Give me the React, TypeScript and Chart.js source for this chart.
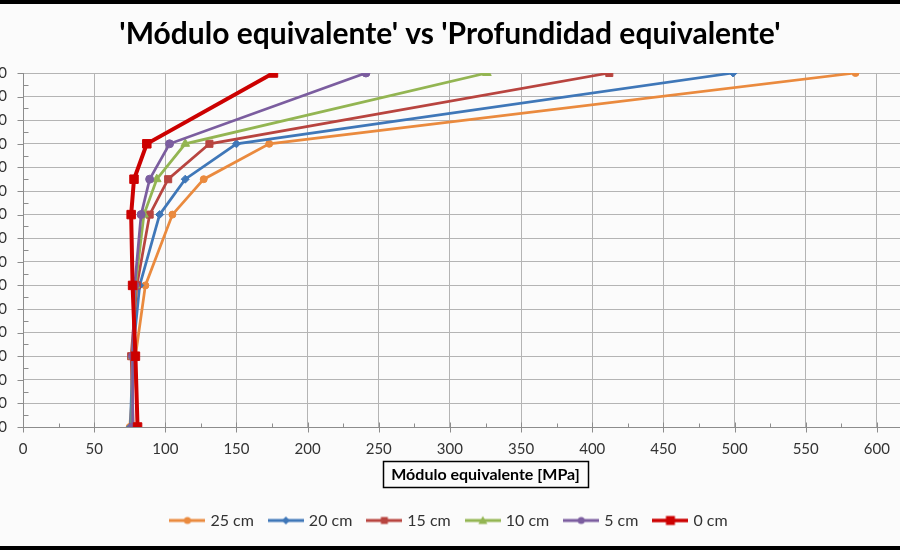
import React, { useEffect, useRef } from "react";
import { Chart, registerables } from "chart.js";

Chart.register(...registerables);

// ---------- data ----------
const depthValues = [0, 30, 45, 60, 90, 120, 150];
const seriesNames = ["25 cm", "20 cm", "15 cm", "10 cm", "5 cm", "0 cm"];
const modulus25 = [585, 173, 127, 105, 86, 79, 75];
const modulus20 = [499, 150, 114, 96, 82, 77, 75.5];
const modulus15 = [412, 131, 102, 89, 80, 76, 77.5];
const modulus10 = [326, 114, 94, 85, 79, 77, 76.5];
const modulus5 = [241, 103, 89, 83, 78.5, 77, 77];
const modulus0 = [176, 87, 78, 76, 77, 79, 80.5];
const seriesValues = [modulus25, modulus20, modulus15, modulus10, modulus5, modulus0];

const chartTitle = "'Módulo equivalente' vs 'Profundidad equivalente'";
const xAxisTitle = "Módulo equivalente [MPa]";
const xRange = [0, 650];
const xStep = 50;
const yRange = [0, 150];
const yStep = 10;

// ---------- styles ----------
const FONT = "Lato, 'Open Sans', sans-serif";
const seriesColors = ["#EA8A3E", "#3F77B8", "#B8443F", "#93B552", "#7B5D9F", "#CC0000"];
const seriesPointStyles = ["circle", "rectRot", "rect", "triangle", "circle", "rect"];
const seriesPointRadius = [3.5, 4, 5, 5, 4, 6];
const seriesLineWidth = [2.75, 2.75, 2.75, 2.75, 2.75, 4];

const CANVAS_W = 996;
const CANVAS_H = 550;
const SHIFT = 48;
const X_AXIS_HEIGHT = 68.5;

function makeLegendImage(color: string, lw: number, style: string) {
  const c = document.createElement("canvas");
  c.width = 36;
  c.height = 14;
  const ctx = c.getContext("2d")!;
  ctx.strokeStyle = color;
  ctx.fillStyle = color;
  ctx.lineWidth = lw;
  ctx.beginPath();
  ctx.moveTo(0, 7);
  ctx.lineTo(36, 7);
  ctx.stroke();
  const cx = 18, cy = 7;
  ctx.beginPath();
  if (style === "circle") {
    ctx.arc(cx, cy, 3.5, 0, Math.PI * 2);
  } else if (style === "rect") {
    const s = lw > 3 ? 4.5 : 3.5;
    ctx.rect(cx - s, cy - s, 2 * s, 2 * s);
  } else if (style === "rectRot") {
    ctx.moveTo(cx, cy - 4);
    ctx.lineTo(cx + 4, cy);
    ctx.lineTo(cx, cy + 4);
    ctx.lineTo(cx - 4, cy);
    ctx.closePath();
  } else if (style === "triangle") {
    ctx.moveTo(cx, cy - 4.5);
    ctx.lineTo(cx + 4.5, cy + 3.5);
    ctx.lineTo(cx - 4.5, cy + 3.5);
    ctx.closePath();
  }
  ctx.fill();
  return c;
}

const decorPlugin = {
  id: "decor",
  beforeDraw(chart: any) {
    const { ctx, width, height } = chart;
    ctx.save();
    ctx.fillStyle = "#FBFBFB";
    ctx.fillRect(0, 0, width, height);
    ctx.restore();
  },
  beforeDatasetsDraw(chart: any) {
    const { ctx } = chart;
    const xs = chart.scales.x;
    const ys = chart.scales.y;
    ctx.save();
    ctx.strokeStyle = "#8C8C8C";
    ctx.lineWidth = 1;
    const xb = Math.round(xs.top) + 0.5;
    for (let v = xRange[0]; v <= xRange[1]; v += xStep / 2) {
      const px = Math.round(xs.getPixelForValue(v)) + 0.5;
      const major = v % xStep === 0;
      ctx.beginPath();
      ctx.moveTo(px, major ? xb - 5 : xb - 4);
      ctx.lineTo(px, major ? xb + 5 : xb);
      ctx.stroke();
    }
    const yl = Math.round(ys.right) + 0.5;
    for (let v = yRange[0]; v <= yRange[1]; v += yStep / 2) {
      const py = Math.round(ys.getPixelForValue(v)) + 0.5;
      const major = v % yStep === 0;
      ctx.beginPath();
      if (major) {
        ctx.moveTo(yl - 6, py);
        ctx.lineTo(yl, py);
      } else {
        ctx.moveTo(yl, py);
        ctx.lineTo(yl + 5, py);
      }
      ctx.stroke();
    }
    ctx.restore();
  },
  afterDraw(chart: any) {
    const { ctx, width, height } = chart;
    ctx.save();
    const xs = chart.scales.x;
    const t = xs.options.title;
    const size = t.font.size;
    const lh = size * 1.2;
    ctx.font = `bold ${size}px ${FONT}`;
    const tw = ctx.measureText(t.text).width;
    const cx = (xs.left + xs.right) / 2;
    const cy = xs.bottom - t.padding.bottom - lh / 2;
    ctx.strokeStyle = "#000";
    ctx.lineWidth = 1.5;
    ctx.strokeRect(Math.round(cx - tw / 2 - 8) + 0.5, Math.round(cy - 13) + 0.5, Math.round(tw + 16), 26);
    ctx.lineWidth = 4;
    ctx.strokeRect(2, 2, width - 4, height - 4);
    ctx.restore();
  },
};

export default function App() {
  const ref = useRef<HTMLCanvasElement | null>(null);

  useEffect(() => {
    if (!ref.current) return;
    const legendImages = seriesNames.map((_, i) =>
      makeLegendImage(seriesColors[i], seriesLineWidth[i] > 3 ? 3.5 : 3, seriesPointStyles[i])
    );
    const datasets = seriesNames.map((name, i) => ({
      label: name,
      data: depthValues.map((d, k) => ({ x: seriesValues[i][k], y: d })),
      showLine: true,
      borderColor: seriesColors[i],
      backgroundColor: seriesColors[i],
      borderWidth: seriesLineWidth[i],
      pointStyle: seriesPointStyles[i],
      pointRadius: seriesPointRadius[i],
      pointHoverRadius: seriesPointRadius[i],
      pointBackgroundColor: seriesColors[i],
      pointBorderColor: seriesColors[i],
      pointBorderWidth: 1,
      tension: 0,
      order: seriesNames.length - 1 - i,
    }));

    const chart = new Chart(ref.current, {
      type: "scatter",
      data: { datasets },
      plugins: [decorPlugin],
      options: {
        responsive: false,
        animation: false,
        events: [],
        devicePixelRatio: 1,
        layout: { autoPadding: false, padding: { top: 0, bottom: 11.5, left: 0, right: 0 } },
        plugins: {
          tooltip: { enabled: false },
          title: {
            display: true,
            text: chartTitle,
            color: "#000",
            font: { family: FONT, size: 30, weight: "bold" },
            padding: { top: 16, bottom: 21 },
          },
          legend: {
            display: true,
            position: "bottom",
            labels: {
              usePointStyle: true,
              pointStyleWidth: 30,
              boxHeight: 16,
              padding: 17,
              color: "#333",
              font: { family: FONT, size: 16 },
              generateLabels: (c: any) =>
                c.data.datasets.map((ds: any, i: number) => ({
                  text: ds.label,
                  pointStyle: legendImages[i],
                  fillStyle: ds.borderColor,
                  strokeStyle: ds.borderColor,
                  lineWidth: 0,
                  hidden: false,
                  datasetIndex: i,
                  fontColor: "#333",
                })),
            },
          },
        },
        scales: {
          x: {
            type: "linear",
            position: "bottom",
            min: xRange[0],
            max: xRange[1],
            ticks: {
              stepSize: xStep,
              padding: 13,
              autoSkip: false,
              maxRotation: 0,
              color: "#333",
              font: { family: FONT, size: 15 },
              callback: (v: any) => (v === xRange[1] ? "" : String(v)),
            },
            grid: { color: "#B4B4B4", lineWidth: 1, drawTicks: false },
            border: { color: "#8C8C8C", width: 1 },
            title: {
              display: true,
              text: xAxisTitle,
              color: "#000",
              font: { family: FONT, size: 16, weight: "bold" },
              padding: { top: 6, bottom: 11.5 },
            },
            afterFit: (s: any) => {
              s.height = X_AXIS_HEIGHT;
              s.paddingRight = 0;
            },
          },
          y: {
            type: "linear",
            reverse: true,
            min: yRange[0],
            max: yRange[1],
            ticks: {
              stepSize: yStep,
              padding: 16,
              autoSkip: false,
              color: "#333",
              font: { family: FONT, size: 15 },
              callback: (v: any) => String(v),
            },
            grid: { color: "#B4B4B4", lineWidth: 1, drawTicks: false },
            border: { color: "#8C8C8C", width: 1 },
            afterFit: (s: any) => {
              s.width = SHIFT + 23;
            },
          },
        },
      } as any,
    });
    return () => chart.destroy();
  }, []);

  return (
    <div
      style={{
        position: "fixed",
        left: 0,
        top: 0,
        width: 900,
        height: 550,
        overflow: "hidden",
        background: "#FBFBFB",
      }}
    >
      <canvas
        ref={ref}
        width={CANVAS_W}
        height={CANVAS_H}
        style={{ position: "absolute", left: -SHIFT, top: 0, width: CANVAS_W, height: CANVAS_H }}
      />
    </div>
  );
}
